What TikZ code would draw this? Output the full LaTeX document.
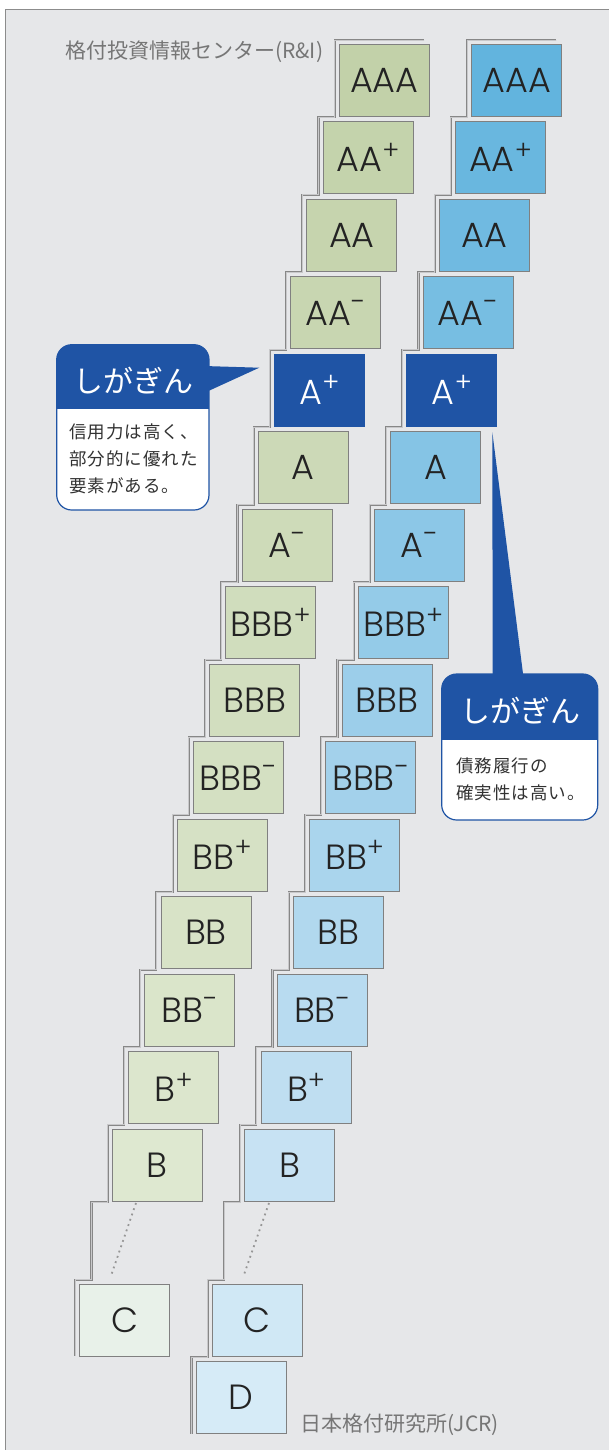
\documentclass[tikz,border=0pt]{standalone}
\usepackage{fontspec}
\setmainfont{Noto Sans CJK JP}
\newfontfamily\lat{Poppins Light}
\newfontfamily\jpb{Noto Sans CJK JP}[LetterSpace=6]
\definecolor{bg}{RGB}{230,231,233}
\definecolor{framec}{RGB}{140,140,140}
\definecolor{stairc}{RGB}{135,135,135}
\definecolor{stairin}{RGB}{200,200,202}
\definecolor{boxb}{RGB}{128,128,128}
\definecolor{txt}{RGB}{35,35,35}
\definecolor{dk}{RGB}{31,84,165}
\definecolor{gA}{RGB}{194,209,169}
\definecolor{gB}{RGB}{222,232,208}
\definecolor{gC}{RGB}{232,241,233}
\definecolor{bA}{RGB}{98,180,222}
\definecolor{bB}{RGB}{199,226,243}
\definecolor{bC}{RGB}{208,232,245}
\definecolor{bD}{RGB}{214,235,247}
\definecolor{ttl}{RGB}{118,118,118}
\definecolor{body}{RGB}{50,50,50}
\definecolor{dotc}{RGB}{150,150,150}
\newcommand\pl{\raisebox{0.36em}{\fontsize{26}{26}\selectfont +}}
\newcommand\mi{\raisebox{0.40em}{\fontsize{28}{28}\selectfont -}}
\begin{document}
\begin{tikzpicture}[x=1pt,y=-1pt,
  rbox/.style={draw=boxb, line width=0.9, minimum width=90, minimum height=72, inner sep=0,
    font=\lat\fontsize{35}{35}\selectfont, text=txt},
  stair/.style={draw=stairc, line width=0.7, double=stairin, double distance=0.8},
  dotline/.style={draw=dotc, line width=1.8, dash pattern=on 1.8pt off 3.8pt},
  hdr/.style={font=\fontsize{30}{30}\selectfont, text=white, inner sep=0},
  bodytxt/.style={font=\jpb\fontsize{17.5}{27}\selectfont, text=body, align=left, inner sep=0},
  ttlstyle/.style={font=\fontsize{21}{21}\selectfont, text=ttl, inner sep=0}]
\useasboundingbox (0,0) rectangle (609,1450);
\fill[bg] (5,9) rectangle (609,1450);
\draw[framec, line width=1.6] (5.5,1450) -- (5.5,9.5) -- (609,9.5);

% staircases
\draw[stair] (424,40) -- (334.7,40)
  \foreach \i in {0,...,15}{ -- ({334.7-16.21*\i},{117.3+77.5*\i}) -- ({334.7-16.21*(\i+1)},{117.3+77.5*\i}) }
  -- ({334.7-16.21*16},1355.7);
\draw[stair] (556.4,40) -- (467.1,40)
  \foreach \i in {0,...,16}{ -- ({467.1-16.21*\i},{117.3+77.5*\i}) -- ({467.1-16.21*(\i+1)},{117.3+77.5*\i}) }
  -- ({467.1-16.21*17},1434);

% green column
\foreach \i/\l in {0/AAA,1/AA\pl,2/AA,3/AA\mi,5/A,6/A\mi,7/BBB\pl,8/BBB,9/BBB\mi,10/BB\pl,11/BB,12/BB\mi,13/B\pl,14/B}{
  \pgfmathtruncatemacro\p{100*\i/14}
  \node[rbox, fill=gB!\p!gA] (g\i) at ({384.3-16.21*\i},{80+77.5*\i}) {\l};
}
\node[rbox, fill=dk, draw=dk, text=white] (g4) at ({384.3-16.21*4},{80+77.5*4}) {A\pl};
\node[rbox, fill=gC] (g16) at ({384.3-16.21*16},{80+77.5*16}) {C};

% blue column
\foreach \i/\l in {0/AAA,1/AA\pl,2/AA,3/AA\mi,5/A,6/A\mi,7/BBB\pl,8/BBB,9/BBB\mi,10/BB\pl,11/BB,12/BB\mi,13/B\pl,14/B}{
  \pgfmathtruncatemacro\p{100*\i/14}
  \node[rbox, fill=bB!\p!bA] (b\i) at ({516.7-16.21*\i},{80+77.5*\i}) {\l};
}
\node[rbox, fill=dk, draw=dk, text=white] (b4) at ({516.7-16.21*4},{80+77.5*4}) {A\pl};
\node[rbox, fill=bC] (b16) at ({516.7-16.21*16},{80+77.5*16}) {C};
\node[rbox, fill=bD] (b17) at ({516.7-16.21*17},{80+77.5*17}) {D};

% dotted gaps
\coordinate (gd1) at (136,1203);
\coordinate (gd2) at (110.7,1276.7);
\coordinate (bd1) at (269,1203);
\coordinate (bd2) at (243.3,1276.7);
\draw[dotline] (gd1) -- (gd2);
\draw[dotline] (bd1) -- (bd2);

% titles
\node[ttlstyle, anchor=west] (rni) at (65,52) {格付投資情報センター(R\&I)};
\node[ttlstyle, anchor=west] (jcr) at (300,1425) {日本格付研究所(JCR)};

% left callout
\fill[dk] (204,366) -- (259.3,367.7) -- (204,393) -- cycle;
\begin{scope}
  \clip[rounded corners=15] (56.7,344.7) rectangle (209,510);
  \fill[white] (56.7,344.7) rectangle (209,510);
  \fill[dk] (56.7,344.7) rectangle (209,409);
\end{scope}
\draw[dk, line width=1.2, rounded corners=15] (56.7,344.7) rectangle (209,510);
\node[hdr] (lh) at (133,381) {しがぎん};
\node[bodytxt, anchor=west] (lb) at (69,459) {信用力は高く、\\部分的に優れた\\要素がある。};

% right callout
\fill[dk] (492.3,432) -- (523.3,676) -- (492.7,676) -- cycle;
\begin{scope}
  \clip[rounded corners=15] (441.7,674) rectangle (597.7,820);
  \fill[white] (441.7,674) rectangle (597.7,820);
  \fill[dk] (441.7,674) rectangle (597.7,740);
\end{scope}
\draw[dk, line width=1.2, rounded corners=15] (441.7,674) rectangle (597.7,820);
\node[hdr] (rh) at (520.7,711) {しがぎん};
\node[bodytxt, anchor=west] (rb) at (456,779.5) {債務履行の\\確実性は高い。};
\end{tikzpicture}
\end{document}
